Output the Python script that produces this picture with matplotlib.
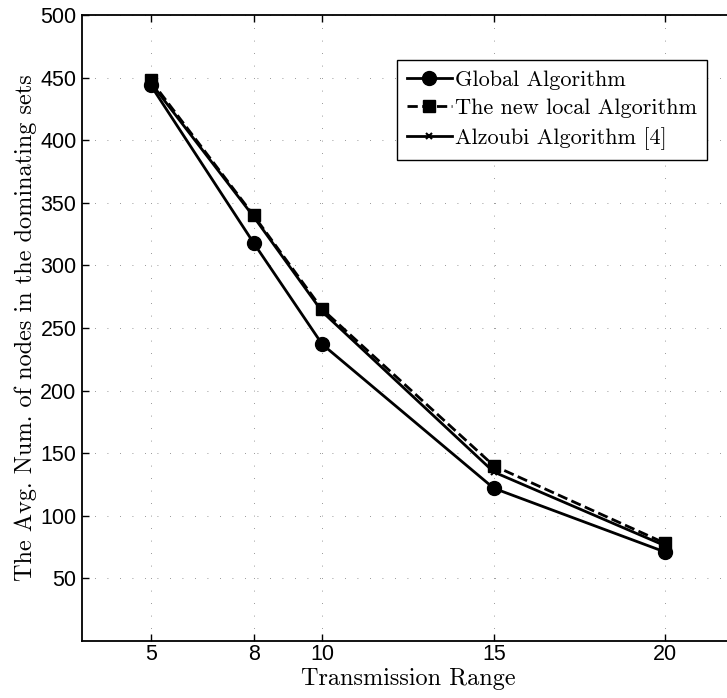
import matplotlib
matplotlib.use("Agg")
import matplotlib.pyplot as plt

# data
tx_range = [5, 8, 10, 15, 20]
global_alg = [444, 318, 237, 122, 71]
new_local = [448, 340, 265, 140, 78]
alzoubi = [446, 339, 263, 135, 76]

x_ticks = [5, 8, 10, 15, 20]
y_ticks = [50, 100, 150, 200, 250, 300, 350, 400, 450, 500]

W, H = 727, 698
fig = plt.figure(figsize=(W / 100, H / 100), dpi=100)
ax = fig.add_axes([82 / W, (H - 641) / H, (734 - 82) / W, (641 - 15) / H])

ax.plot(tx_range, global_alg, '-', color='black', lw=2,
        marker='o', markersize=10, label='Global Algorithm')
ax.plot(tx_range, new_local, '--', color='black', lw=2,
        marker='s', markersize=8.5, label='The new local Algorithm')
ax.plot(tx_range, alzoubi, '-', color='black', lw=2,
        marker='x', markersize=4, markeredgewidth=1.5,
        label='Alzoubi Algorithm [4]')

ax.set_xlim(3, 22)
ax.set_ylim(0, 500)
ax.set_xticks(x_ticks)
ax.set_yticks(y_ticks)
ax.grid(True, linestyle=(0, (1, 14)), color='#777777', lw=0.6)
ax.tick_params(direction='in', top=True, right=True, length=5, width=1,
               labelsize=15.5, pad=4)
ax.tick_params(axis='x', pad=2)
for lbl in ax.get_xticklabels() + ax.get_yticklabels():
    lbl.set_fontfamily('Liberation Sans')
for sp in ax.spines.values():
    sp.set_linewidth(1.3)

ax.set_xlabel('Transmission Range', fontfamily='cmr10', fontsize=17.5, labelpad=2)
ax.set_ylabel('The Avg. Num. of nodes in the dominating sets',
              fontfamily='cmr10', fontsize=17.5, labelpad=2)

leg = ax.legend(loc='upper right', bbox_to_anchor=(707 / W, (H - 60) / H),
                bbox_transform=fig.transFigure, borderaxespad=0,
                prop={'family': 'cmr10', 'size': 16}, fancybox=False,
                edgecolor='black', framealpha=1, handlelength=2.0,
                handletextpad=0.15, labelspacing=0.4, borderpad=0.45)
leg.get_frame().set_linewidth(1.0)

fig.savefig('out.png', dpi=100)
